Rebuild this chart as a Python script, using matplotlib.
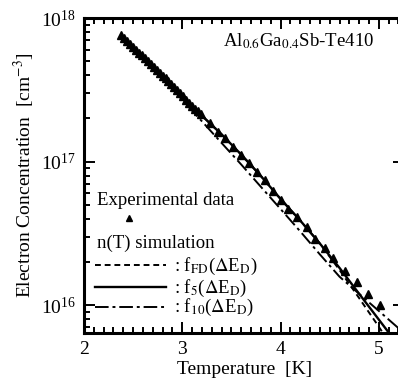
import numpy as np
import matplotlib
matplotlib.use("Agg")
import matplotlib.pyplot as plt
from matplotlib.ticker import MultipleLocator, LogLocator, NullFormatter

plt.rcParams['font.family'] = ['Liberation Serif', 'DejaVu Serif']
plt.rcParams['mathtext.fontset'] = 'stix'

# experimental data (temperature axis, electron concentration in cm^-3)
T_exp = [2.38, 2.41, 2.44, 2.47, 2.50, 2.53, 2.56, 2.59, 2.62, 2.65,
         2.68, 2.71, 2.74, 2.77, 2.80, 2.83, 2.86, 2.89, 2.92, 2.95,
         2.98, 3.01, 3.04, 3.07, 3.10, 3.13, 3.16, 3.19,
         3.28, 3.36, 3.44, 3.52, 3.60, 3.68, 3.76, 3.84, 3.92, 4.00,
         4.08, 4.17, 4.27, 4.35, 4.45, 4.53, 4.66, 4.78, 4.89, 5.01]
n_exp = [7.59e17, 7.24e17, 6.92e17, 6.61e17, 6.31e17, 6.03e17, 5.75e17, 5.50e17, 5.25e17, 5.01e17,
         4.79e17, 4.57e17, 4.37e17, 4.17e17, 3.98e17, 3.80e17, 3.63e17, 3.47e17, 3.31e17, 3.16e17,
         3.02e17, 2.88e17, 2.69e17, 2.57e17, 2.45e17, 2.34e17, 2.24e17, 2.14e17,
         1.86e17, 1.62e17, 1.45e17, 1.26e17, 1.12e17, 9.8e16, 8.5e16, 7.4e16, 6.2e16, 5.4e16,
         4.7e16, 4.1e16, 3.5e16, 2.9e16, 2.5e16, 2.14e16, 1.74e16, 1.45e16, 1.20e16, 1.00e16]

# simulations
T_sim = [2.38, 2.6, 2.8, 3.0, 3.2, 3.4, 3.6, 3.8, 4.0, 4.2, 4.4, 4.6, 4.8, 5.0, 5.2, 5.3]
n_fd = [7.5e17, 5.37e17, 3.98e17, 2.88e17, 2.09e17, 1.55e17, 1.12e17, 7.94e16, 5.50e16, 3.89e16,
        2.69e16, 1.76e16, 1.12e16, 7.08e15, 4.37e15, 3.45e15]
n_f5 = [7.5e17, 5.37e17, 3.98e17, 2.88e17, 2.09e17, 1.55e17, 1.12e17, 7.94e16, 5.50e16, 3.89e16,
        2.69e16, 1.82e16, 1.20e16, 7.94e15, 5.25e15, 4.27e15]
n_f10 = [7.5e17, 5.37e17, 3.85e17, 2.69e17, 1.91e17, 1.35e17, 9.55e16, 6.68e16, 4.68e16, 3.27e16,
         2.26e16, 1.58e16, 1.20e16, 9.12e15, 6.92e15, 6.03e15]

fig = plt.figure(figsize=(3.98, 3.85), dpi=100)
ax = fig.add_axes([0.211, 0.135, 0.805, 0.818])

ax.plot(T_sim, n_fd, color='black', lw=1.4, ls=(0, (3, 2)))
ax.plot(T_sim, n_f5, color='black', lw=1.7, ls='-')
ax.plot(T_sim, n_f10, color='black', lw=1.4, ls=(0, (7, 2, 1.5, 2)))
ax.plot(T_exp, n_exp, ls='none', marker='^', ms=5.5, color='black', mec='black')

ax.set_yscale('log')
ax.set_xlim(2, 5.26)
ax.set_ylim(6.4e15, 1e18)

ax.xaxis.set_major_locator(MultipleLocator(1))
ax.xaxis.set_minor_locator(MultipleLocator(0.1))
ax.yaxis.set_major_locator(LogLocator(base=10, numticks=10))
ax.yaxis.set_minor_locator(LogLocator(base=10, subs=np.arange(2, 10), numticks=20))
ax.yaxis.set_minor_formatter(NullFormatter())

ax.tick_params(which='both', direction='in', top=True, right=True, width=1.4, labelsize=14)
ax.tick_params(which='major', length=8, pad=6)
ax.tick_params(which='minor', length=4)
for s in ax.spines.values():
    s.set_linewidth(2.2)

ax.set_xlabel('Temperature  [K]', fontsize=14, labelpad=2)
ax.set_ylabel('Electron Concentration  [cm$^{-3}$]', fontsize=14, labelpad=3)

ax.text(0.905, 0.927, 'Al$_{0.6}$Ga$_{0.4}$Sb-Te410', transform=ax.transAxes,
        ha='right', va='center', fontsize=13.5)

# hand-made legend
tr = ax.transAxes
ax.text(0.041, 0.422, 'Experimental data', transform=tr, ha='left', va='center', fontsize=13.5)
ax.plot([0.14], [0.365], transform=tr, marker='^', ms=5, color='black', ls='none')
ax.text(0.041, 0.286, 'n(T) simulation', transform=tr, ha='left', va='center', fontsize=13.5)
ax.plot([0.035, 0.255], [0.216, 0.216], transform=tr, color='black', lw=1.4, ls=(0, (3, 2)))
ax.plot([0.035, 0.255], [0.146, 0.146], transform=tr, color='black', lw=1.7)
ax.plot([0.035, 0.255], [0.083, 0.083], transform=tr, color='black', lw=1.4, ls=(0, (7, 2, 1.5, 2)))
ax.text(0.282, 0.213, ': f$_{\\mathrm{FD}}$($\\Delta$E$_{\\mathrm{D}}$)', transform=tr, ha='left', va='center', fontsize=13.5)
ax.text(0.282, 0.143, ': f$_{5}$($\\Delta$E$_{\\mathrm{D}}$)', transform=tr, ha='left', va='center', fontsize=13.5)
ax.text(0.282, 0.080, ': f$_{10}$($\\Delta$E$_{\\mathrm{D}}$)', transform=tr, ha='left', va='center', fontsize=13.5)

fig.savefig('out.png', dpi=100)
